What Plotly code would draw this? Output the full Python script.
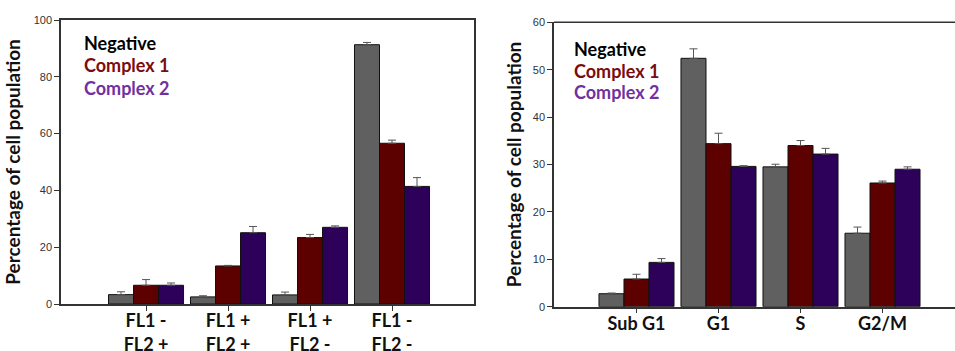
import plotly.graph_objects as go

series = ["Negative", "Complex 1", "Complex 2"]
colors = ["#606060", "#5c0000", "#2d0059"]
text_colors = ["#000000", "#7b0c0c", "#7030a0"]

left_cats = ["FL1 -<br>FL2 +", "FL1 +<br>FL2 +", "FL1 +<br>FL2 -", "FL1 -<br>FL2 -"]
left_vals = [
    [3.3, 2.5, 3.2, 91.3],
    [6.6, 13.4, 23.4, 56.6],
    [6.6, 25.1, 27.0, 41.4],
]
left_err = [
    [1.0, 0.4, 1.0, 0.8],
    [2.0, 0.2, 1.1, 1.1],
    [0.8, 2.2, 0.5, 3.1],
]

right_cats = ["Sub G1", "G1", "S", "G2/M"]
right_vals = [
    [2.74, 52.4, 29.5, 15.5],
    [5.84, 34.4, 34.0, 26.1],
    [9.35, 29.6, 32.2, 29.0],
]
right_err = [
    [0.15, 2.0, 0.56, 1.3],
    [1.0, 2.2, 1.05, 0.4],
    [0.8, 0.15, 1.2, 0.5],
]

fig = go.Figure()

for i, s in enumerate(series):
    fig.add_trace(go.Bar(
        x=list(range(len(left_cats))), y=left_vals[i], name=s,
        marker=dict(color=colors[i], line=dict(color="#111111", width=1)),
        error_y=dict(type="data", symmetric=False, array=left_err[i],
                     arrayminus=[0] * len(left_err[i]),
                     color="#555555", thickness=1, width=4),
        xaxis="x", yaxis="y", showlegend=False,
    ))
    fig.add_trace(go.Bar(
        x=list(range(len(right_cats))), y=right_vals[i], name=s,
        marker=dict(color=colors[i], line=dict(color="#111111", width=1)),
        error_y=dict(type="data", symmetric=False, array=right_err[i],
                     arrayminus=[0] * len(right_err[i]),
                     color="#555555", thickness=1, width=4),
        xaxis="x2", yaxis="y2", showlegend=False,
    ))

tickfont = dict(family="Liberation Sans, Arial", size=11, color="#333333")
catfont = dict(family="Lato, Open Sans", size=18, color="#111111")
titlefont = dict(family="Lato, Open Sans", size=19, color="#111111")

line_common = dict(showline=True, linecolor="#333333", linewidth=1.5,
                   showgrid=False, zeroline=False, automargin=False)
yaxis_common = dict(ticks="outside", ticklen=5, tickcolor="#333333", tickwidth=1, **line_common)


def cat_axis(n):
    # tick marks drawn as minor ticks so that labels sit close to the axis line
    return dict(ticks="", minor=dict(ticks="outside", ticklen=5, tickcolor="#333333",
                                     tickwidth=1, tickvals=list(range(n)), showgrid=False),
                **line_common)


fig.update_layout(
    width=955, height=351,
    margin=dict(l=0, r=0, t=0, b=0),
    paper_bgcolor="white", plot_bgcolor="white",
    barmode="group", bargap=0.085, bargroupgap=0,
    xaxis=dict(domain=[61 / 955, 474 / 955], range=[-1.037, 4.0],
               tickvals=list(range(len(left_cats))), ticktext=[f"<b>{c}</b>" for c in left_cats],
               tickfont=catfont, mirror=True, anchor="y", **cat_axis(len(left_cats))),
    yaxis=dict(domain=[47 / 351, 331 / 351], range=[0, 100], tickvals=[0, 20, 40, 60, 80, 100],
               tickfont=tickfont, mirror=True, anchor="x",
               title=dict(text="<b>Percentage of cell population</b>", font=titlefont, standoff=8),
               **yaxis_common),
    xaxis2=dict(domain=[554 / 955, 1.0], range=[-1.006, 3.884],
                tickvals=list(range(len(right_cats))), ticktext=[f"<b>{c}</b>" for c in right_cats],
                tickfont=catfont, mirror=False, anchor="y2", **cat_axis(len(right_cats))),
    yaxis2=dict(domain=[44.3 / 351, 328.7 / 351], range=[0, 60], tickvals=[0, 10, 20, 30, 40, 50, 60],
                tickfont=tickfont, mirror=False, anchor="x2",
                title=dict(text="<b>Percentage of cell population</b>", font=titlefont, standoff=6),
                **yaxis_common),
)

# top border of right chart (its right edge is cropped in the reference)
fig.add_shape(type="line", xref="x2 domain", yref="y2 domain", x0=0, x1=1, y0=1, y1=1,
              line=dict(color="#333333", width=1.5))

legend_pos = [(82, [43, 65.5, 88], "x domain", "y domain", 61, 474, 20, 304),
              (572, [49, 70.5, 92], "x2 domain", "y2 domain", 554, 955, 22.3, 306.7)]
for px, pys, xr, yr, x0, x1, y0, y1 in legend_pos:
    for i, s in enumerate(series):
        fig.add_annotation(
            x=(px - x0) / (x1 - x0), y=(y1 - pys[i]) / (y1 - y0), xref=xr, yref=yr,
            text=f"<b>{s}</b>", showarrow=False, xanchor="left", yanchor="middle",
            font=dict(family="Lato, Open Sans", size=18, color=text_colors[i]),
        )

fig.write_html("out.html")
